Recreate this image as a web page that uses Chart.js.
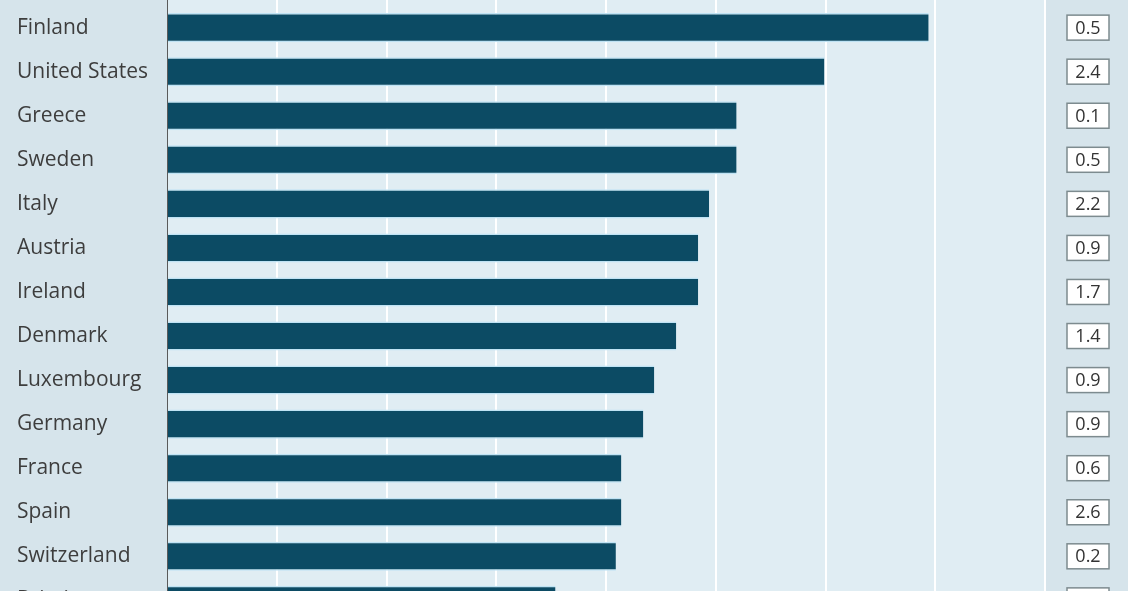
<!DOCTYPE html>
<html>
<head>
<meta charset="utf-8">
<script src="https://cdn.jsdelivr.net/npm/chart.js@4/dist/chart.umd.min.js"></script>
<style>
  html, body { margin: 0; padding: 0; overflow: hidden; background: #d6e4eb; }
  #wrap { position: relative; width: 1128px; height: 642px; margin-top: -7px; }
</style>
</head>
<body>
<div id="wrap"><canvas id="chart"></canvas></div>
<script>
// Countries, top to bottom
const countries = ['Finland', 'United States', 'Greece', 'Sweden', 'Italy', 'Austria', 'Ireland',
  'Denmark', 'Luxembourg', 'Germany', 'France', 'Spain', 'Switzerland', 'Britain'];
// Bar lengths (one unit = one gridline)
const barValues = [6.94, 5.99, 5.19, 5.19, 4.94, 4.84, 4.84, 4.64, 4.44, 4.34, 4.14, 4.14, 4.09, 3.54];
// Figures in the boxes on the right
const boxValues = ['0.5', '2.4', '0.1', '0.5', '2.2', '0.9', '1.7', '1.4', '0.9', '0.9', '0.6', '2.6', '0.2', '1.1'];
const axisMin = 0, axisMax = 8, axisStep = 1;

const plotBg = {
  id: 'plotBg',
  beforeDraw(chart) {
    const { ctx, chartArea: a } = chart;
    ctx.save();
    ctx.fillStyle = '#e0edf3';
    ctx.fillRect(a.left, a.top - 12, a.right - a.left, a.bottom - a.top + 12);
    ctx.restore();
  },
  afterDraw(chart) {
    // axis line runs up past the top of the plot
    const { ctx, chartArea: a } = chart;
    ctx.save();
    ctx.strokeStyle = '#5a5a5a';
    ctx.lineWidth = 1;
    ctx.beginPath();
    ctx.moveTo(a.left + 0.5, a.top - 12);
    ctx.lineTo(a.left + 0.5, a.bottom);
    ctx.stroke();
    ctx.restore();
  }
};

const valueBoxes = {
  id: 'valueBoxes',
  afterDraw(chart) {
    const { ctx } = chart;
    const y = chart.scales.y;
    const cx = 1088;
    ctx.save();
    ctx.font = "18px 'Open Sans', sans-serif";
    ctx.textAlign = 'center';
    ctx.textBaseline = 'middle';
    boxValues.forEach((v, i) => {
      const cy = y.getPixelForValue(i);
      ctx.fillStyle = '#ffffff';
      ctx.fillRect(cx - 21, cy - 12.5, 42, 25);
      ctx.strokeStyle = '#7d8b8f';
      ctx.lineWidth = 1.5;
      ctx.strokeRect(cx - 21, cy - 12.5, 42, 25);
      ctx.fillStyle = '#333333';
      ctx.fillText(v, cx, cy + 1);
    });
    ctx.restore();
  }
};

new Chart(document.getElementById('chart').getContext('2d'), {
  type: 'bar',
  data: {
    labels: countries,
    datasets: [{
      data: barValues,
      backgroundColor: '#0c4b64',
      borderColor: '#bfe3f4',
      borderWidth: { top: 1.5, bottom: 1.5, left: 0, right: 0 },
      borderSkipped: false,
      categoryPercentage: 1,
      barPercentage: 0.66
    }]
  },
  options: {
    indexAxis: 'y',
    responsive: true,
    maintainAspectRatio: false,
    animation: false,
    layout: { padding: { left: 17, right: 83, top: 3, bottom: 9 } },
    plugins: { legend: { display: false }, tooltip: { enabled: false } },
    scales: {
      x: {
        position: 'top',
        min: axisMin,
        max: axisMax,
        ticks: { display: false, stepSize: axisStep },
        grid: {
          color: ctx => ctx.tick && ctx.tick.value === 0 ? 'rgba(0,0,0,0)' : '#ffffff',
          lineWidth: 2,
          drawTicks: true,
          tickLength: 10
        },
        border: { display: false },
        afterFit: s => { s.height = 0; }
      },
      y: {
        ticks: {
          color: '#3d3d3d',
          crossAlign: 'far',
          padding: 0,
          font: { family: "'Open Sans', sans-serif", size: 21 }
        },
        grid: { display: false },
        border: { display: false },
        afterFit: s => { s.width = 150; }
      }
    }
  },
  plugins: [plotBg, valueBoxes]
});
</script>
</body>
</html>
